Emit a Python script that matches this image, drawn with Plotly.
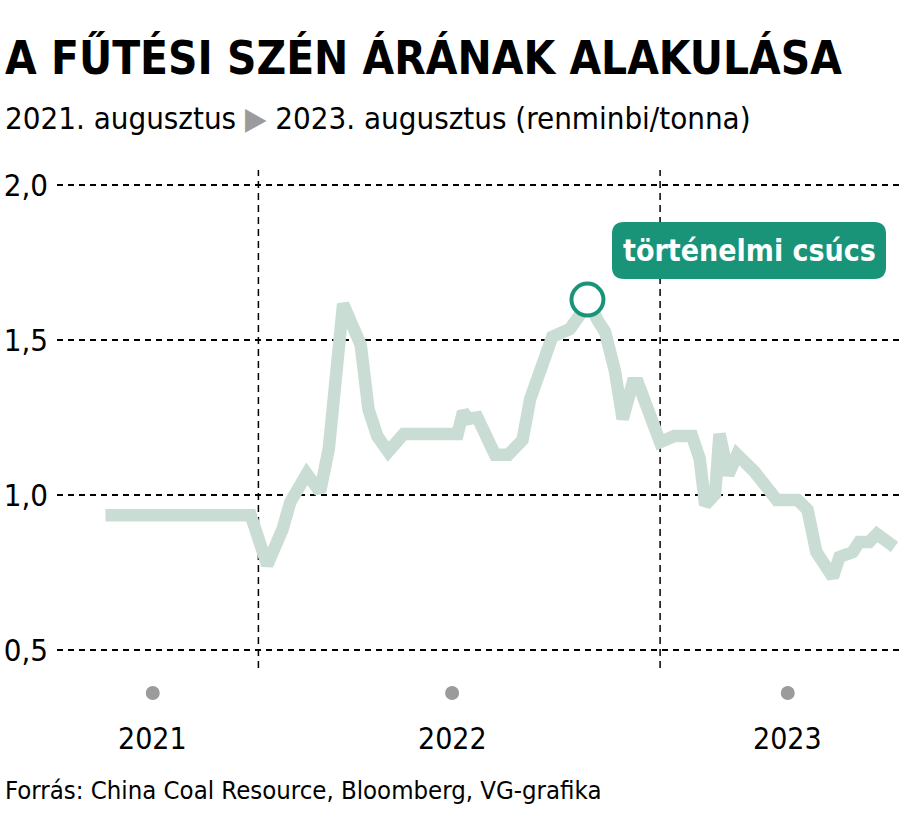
import plotly.graph_objects as go

# ---- data ----
dates = [
    "2021-08-15", "2021-12-25", "2022-01-09", "2022-01-23", "2022-01-30", "2022-02-14",
    "2022-02-26", "2022-03-06", "2022-03-19", "2022-04-04", "2022-04-11", "2022-04-19",
    "2022-04-29", "2022-05-13", "2022-07-01", "2022-07-06", "2022-07-11", "2022-07-19",
    "2022-08-04", "2022-08-16", "2022-08-29", "2022-09-05", "2022-09-25", "2022-10-11",
    "2022-10-20", "2022-10-27", "2022-11-05", "2022-11-12", "2022-11-21", "2022-11-28",
    "2022-12-07", "2022-12-12", "2023-01-01", "2023-01-14", "2023-01-30", "2023-02-06",
    "2023-02-11", "2023-02-20", "2023-02-24", "2023-03-04", "2023-03-12", "2023-03-28",
    "2023-04-17", "2023-05-06", "2023-05-15", "2023-05-23", "2023-06-07", "2023-06-13",
    "2023-06-25", "2023-07-01", "2023-07-10", "2023-07-17", "2023-08-02",
]
price = [
    0.935, 0.935, 0.774, 0.89, 0.977, 1.068,
    1.01, 1.15, 1.616, 1.484, 1.277, 1.19,
    1.14, 1.197, 1.197, 1.268, 1.245, 1.25,
    1.13, 1.13, 1.177, 1.31, 1.51, 1.535,
    1.58, 1.63, 1.565, 1.526, 1.40, 1.245,
    1.36, 1.36, 1.17, 1.19, 1.19, 1.117,
    0.968, 1.003, 1.197, 1.065, 1.13, 1.074,
    0.984, 0.984, 0.952, 0.816, 0.735, 0.80,
    0.816, 0.848, 0.848, 0.874, 0.832,
]
peak_date = "2022-10-27"
peak_value = 1.63
peak_label = "történelmi csúcs"

y_ticks = [0.5, 1.0, 1.5, 2.0]
y_tick_labels = ["0,5", "1,0", "1,5", "2,0"]
year_boundaries = ["2022-01-01", "2023-01-01"]
year_labels = ["2021", "2022", "2023"]
year_label_dates = ["2021-09-27", "2022-06-26", "2023-04-27"]

title = "A FŰTÉSI SZÉN ÁRÁNAK ALAKULÁSA"
subtitle = "2021. augusztus <span style='color:#9b9b9b'>▶</span> 2023. augusztus (renminbi/tonna)"
source = "Forrás: China Coal Resource, Bloomberg, VG-grafika"

# ---- layout geometry ----
W, H = 900, 828
L, R, T, B = 57, 0, 170, 160
PW, PH = W - L - R, H - T - B

def px(x):
    return (x - L) / PW

def py(y):
    return (H - B - y) / PH

FONT = "DejaVu Sans Condensed, Liberation Sans Narrow, sans-serif"
LINE_COLOR = "#c9ddd5"
TEAL = "#1a9479"

fig = go.Figure()
fig.add_trace(go.Scatter(
    x=dates, y=price, mode="lines",
    line=dict(color=LINE_COLOR, width=12.5),
    hoverinfo="skip", showlegend=False,
))
fig.add_trace(go.Scatter(
    x=[peak_date], y=[peak_value], mode="markers",
    marker=dict(size=32, color="white", line=dict(color=TEAL, width=4)),
    hoverinfo="skip", showlegend=False, cliponaxis=False,
))

shapes = []
for d in year_boundaries:
    shapes.append(dict(type="line", xref="x", yref="paper", x0=d, x1=d, y0=0, y1=1,
                       line=dict(color="black", width=1.5, dash="7px,5px"), layer="below"))
for d in year_label_dates:
    shapes.append(dict(type="circle", xref="x", yref="paper", xsizemode="pixel", ysizemode="pixel",
                       xanchor=d, yanchor=py(693), x0=-7, x1=7, y0=-7, y1=7,
                       fillcolor="#9b9b9b", line=dict(width=0)))

# rounded box for the peak label
bx0, bx1, by0, by1, rr = 612, 886, 222, 279, 12
path = (f"M {px(bx0+rr)},{py(by0)} L {px(bx1-rr)},{py(by0)} "
        f"Q {px(bx1)},{py(by0)} {px(bx1)},{py(by0+rr)} L {px(bx1)},{py(by1-rr)} "
        f"Q {px(bx1)},{py(by1)} {px(bx1-rr)},{py(by1)} L {px(bx0+rr)},{py(by1)} "
        f"Q {px(bx0)},{py(by1)} {px(bx0)},{py(by1-rr)} L {px(bx0)},{py(by0+rr)} "
        f"Q {px(bx0)},{py(by0)} {px(bx0+rr)},{py(by0)} Z")
shapes.append(dict(type="path", xref="paper", yref="paper", path=path,
                   fillcolor=TEAL, line=dict(width=0)))

annotations = [
    dict(text=f"<b>{title}</b>", xref="paper", yref="paper", x=px(3), y=py(58),
         xanchor="left", yanchor="middle", showarrow=False,
         font=dict(family=FONT, size=45.5, color="black")),
    dict(text=subtitle, xref="paper", yref="paper", x=px(3), y=py(118),
         xanchor="left", yanchor="middle", showarrow=False,
         font=dict(family=FONT, size=31, color="black")),
    dict(text=source, xref="paper", yref="paper", x=px(3), y=py(790),
         xanchor="left", yanchor="middle", showarrow=False,
         font=dict(family=FONT, size=25.5, color="black")),
    dict(text=f"<b>{peak_label}</b>", xref="paper", yref="paper", x=px((bx0 + bx1) / 2),
         y=py((by0 + by1) / 2), xanchor="center", yanchor="middle", showarrow=False,
         font=dict(family=FONT, size=30, color="white")),
]
for d, lab in zip(year_label_dates, year_labels):
    annotations.append(dict(text=lab, xref="x", yref="paper", x=d, y=py(738),
                            xanchor="center", yanchor="middle", showarrow=False,
                            font=dict(family=FONT, size=30, color="black")))

fig.update_layout(
    width=W, height=H,
    margin=dict(l=L, r=R, t=T, b=B, pad=0),
    paper_bgcolor="white", plot_bgcolor="white",
    xaxis=dict(range=["2021-07-02", "2023-08-07"], showgrid=False, zeroline=False,
               showticklabels=False, ticks="", showline=False, fixedrange=True),
    yaxis=dict(range=[0.442, 2.048], tickvals=y_ticks, ticktext=y_tick_labels,
               showgrid=True, gridcolor="black", gridwidth=1.5, griddash="6px,5px",
               zeroline=False, showline=False, ticks="", ticklabelstandoff=8,
               tickfont=dict(family=FONT, size=31, color="black"), fixedrange=True),
    shapes=shapes, annotations=annotations,
    showlegend=False,
)

fig.write_html("out.html")
